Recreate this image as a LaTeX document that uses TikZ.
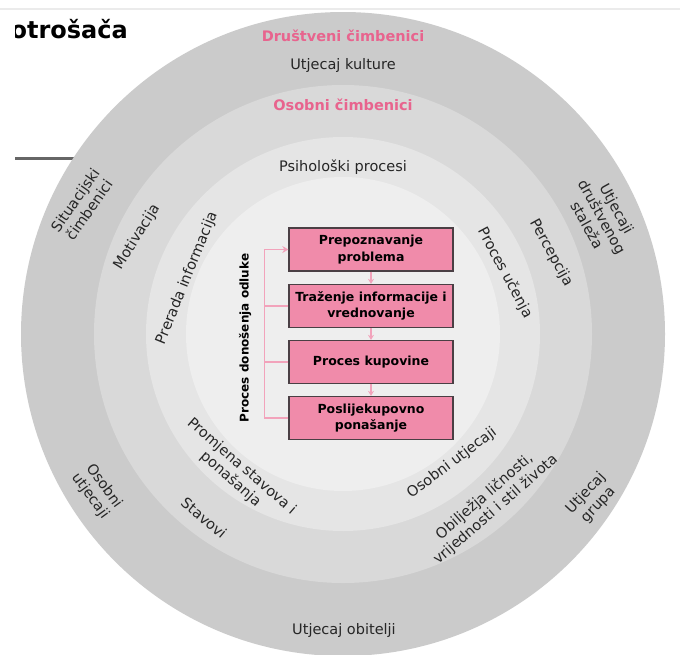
\documentclass[tikz,border=0pt]{standalone}
\usepackage{fontspec}
\setmainfont{DejaVu Sans}
\usetikzlibrary{arrows.meta}
\definecolor{ringA}{HTML}{CBCBCB}
\definecolor{ringB}{HTML}{D9D9D9}
\definecolor{ringC}{HTML}{E5E5E5}
\definecolor{ringD}{HTML}{EEEEEE}
\definecolor{headpink}{HTML}{E8648E}
\definecolor{boxpink}{HTML}{F08BAA}
\definecolor{boxedge}{HTML}{4A3F44}
\definecolor{linkpink}{HTML}{F2A3BB}
\begin{document}
\begin{tikzpicture}[x=1pt,y=-1pt,
  lbl/.style={font=\fontsize{14.5}{17}\selectfont, align=center, text=black!85, inner sep=0pt},
  head/.style={font=\bfseries\fontsize{14.5}{17}\selectfont, text=headpink, inner sep=0pt},
  stagebox/.style={draw=boxedge, line width=1.3pt, fill=boxpink, minimum width=164pt, minimum height=43pt, align=center, font=\bfseries\fontsize{12.5}{16.5}\selectfont, inner sep=0pt},
  flow/.style={linkpink, line width=1.5pt, -{Stealth[length=5pt,width=6pt]}},
  bracket/.style={linkpink, line width=1.5pt}]
\useasboundingbox (0,0) rectangle (680,654);
\clip (0,0) rectangle (680,654);
\fill[white] (0,0) rectangle (680,654);
\draw[black!8, line width=2pt] (0,9) -- (680,9);
\coordinate (c) at (343,334);
\draw[black!60, line width=3pt] (15,158) -- (90,158);
\fill[ringA] (c) circle[radius=322pt];
\fill[ringB] (c) circle[radius=249pt];
\fill[ringC] (c) circle[radius=197pt];
\fill[ringD] (c) circle[radius=157pt];

% title
\begin{scope}
\clip (15,12) rectangle (300,60);
\node[font=\bfseries\fontsize{24}{28}\selectfont, anchor=base east, inner sep=0pt] (title) at (128,38) {otrošača};
\end{scope}

% top / bottom labels
\node[head] (drus) at (343,36) {Društveni čimbenici};
\node[lbl] (kult) at (343,65) {Utjecaj kulture};
\node[head] (osob) at (343,105) {Osobni čimbenici};
\node[lbl] (psih) at (343,167) {Psihološki procesi};
\node[lbl] (obit) at (344,630) {Utjecaj obitelji};

% left
\node[lbl, rotate=55] (sit) at (82,205) {Situacijski\\čimbenici};
\node[lbl, rotate=58] (mot) at (137,237) {Motivacija};
\node[lbl, rotate=68] (prer) at (187,278) {Prerada informacija};

% right
\node[lbl, rotate=-61] (stal) at (602,217) {Utjecaji\\društvenog\\staleža};
\node[lbl, rotate=-61] (perc) at (551,253) {Percepcija};
\node[lbl, rotate=-62] (uce) at (505,273) {Proces učenja};

% bottom left
\node[lbl, rotate=-54] (osu) at (97,491) {Osobni\\utjecaji};
\node[lbl, rotate=-40] (stav) at (204,518) {Stavovi};
\node[lbl, rotate=-41] (prom) at (236,473) {Promjena stavova i\\ponašanja};

% bottom right
\node[lbl, rotate=37] (osu2) at (452,463) {Osobni utjecaji};
\node[lbl, rotate=41] (obil) at (490,503) {Obilježja ličnosti,\\vrijednosti i stil života};
\node[lbl, rotate=47] (grup) at (592,499) {Utjecaj\\grupa};

% process boxes
\node[stagebox] (b1) at (371,249.5) {Prepoznavanje\\problema};
\node[stagebox] (b2) at (371,306) {Traženje informacije i\\vrednovanje};
\node[stagebox] (b3) at (371,362) {Proces kupovine};
\node[stagebox] (b4) at (371,418) {Poslijekupovno\\ponašanje};
\draw[flow] (b1) -- (b2);
\draw[flow] (b2) -- (b3);
\draw[flow] (b3) -- (b4);
\draw[bracket] (b2.west) -- ++(-24,0);
\draw[bracket] (b3.west) -- ++(-24,0);
\draw[bracket, -{Stealth[length=6pt,width=7pt]}] (b4.west) -- ++(-24,0) |- (b1.west);
\node[font=\bfseries\fontsize{12}{14}\selectfont, rotate=90, inner sep=0pt] (pdo) at (245,338) {Proces donošenja odluke};
\end{tikzpicture}
\end{document}
